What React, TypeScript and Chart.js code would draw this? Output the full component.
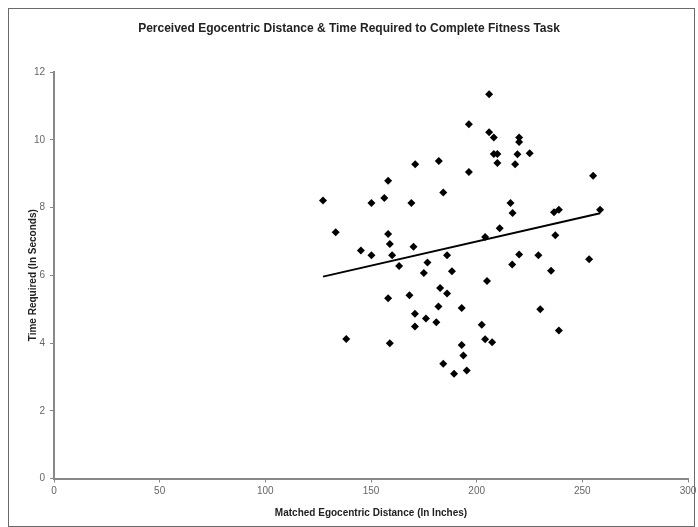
import React, { useEffect, useRef } from "react";
import { Chart, registerables } from "chart.js";

Chart.register(...registerables);

const chartTitle = "Perceived Egocentric Distance & Time Required to Complete Fitness Task";
const xAxisTitle = "Matched Egocentric Distance (In Inches)";
const yAxisTitle = "Time Required (In Seconds)";

const distanceInches = [
  205.9, 196.3, 205.9, 208.1, 208.1, 209.8, 209.8, 170.9, 182.1, 196.3,
  158.1, 184.2, 127.3, 150.2, 156.3, 169.1, 220.1, 220.1, 219.3, 225.1,
  218.2, 255.1, 216.0, 217.0, 236.6, 238.9, 258.4, 210.9, 204.0, 237.2,
  220.1, 229.2, 216.8, 253.2, 235.2, 204.9, 230.1, 202.4, 238.9, 204.0,
  207.3, 133.3, 158.1, 158.9, 145.2, 150.2, 160.0, 170.1, 163.3, 176.7,
  186.0, 175.0, 188.3, 182.7, 186.0, 158.1, 168.2, 181.9, 192.9, 170.8,
  176.0, 180.9, 170.8, 138.3, 158.9, 192.9, 193.7, 184.2, 189.3, 195.3,
];

const timeSeconds = [
  11.34, 10.46, 10.22, 10.07, 9.58, 9.58, 9.31, 9.28, 9.37, 9.05,
  8.79, 8.44, 8.21, 8.13, 8.28, 8.13, 10.07, 9.93, 9.57, 9.6,
  9.28, 8.94, 8.13, 7.84, 7.86, 7.93, 7.93, 7.39, 7.13, 7.18,
  6.61, 6.59, 6.32, 6.47, 6.13, 5.83, 5.0, 4.54, 4.37, 4.11,
  4.02, 7.27, 7.22, 6.92, 6.73, 6.59, 6.59, 6.84, 6.27, 6.38,
  6.59, 6.07, 6.12, 5.62, 5.46, 5.32, 5.41, 5.08, 5.03, 4.86,
  4.72, 4.61, 4.49, 4.12, 3.99, 3.94, 3.63, 3.39, 3.09, 3.19,
];

const trendX = [127.3, 258.4];
const trendY = [5.96, 7.83];

const xTicks = [0, 50, 100, 150, 200, 250, 300];
const yTicks = [0, 2, 4, 6, 8, 10, 12];

export default function App() {
  const canvasRef = useRef<HTMLCanvasElement | null>(null);

  useEffect(() => {
    const canvas = canvasRef.current;
    if (!canvas) return;
    const font = "'Liberation Sans', Arial, sans-serif";
    const chart = new Chart(canvas, {
      type: "scatter",
      data: {
        datasets: [
          {
            type: "scatter",
            data: distanceInches.map((x, i) => ({ x, y: timeSeconds[i] })),
            pointStyle: "rectRot",
            pointRadius: 4,
            pointHoverRadius: 4,
            backgroundColor: "#000",
            borderColor: "#000",
            borderWidth: 0,
          },
          {
            type: "line",
            data: trendX.map((x, i) => ({ x, y: trendY[i] })),
            borderColor: "#000",
            borderWidth: 2,
            pointRadius: 0,
            showLine: true,
            fill: false,
          } as any,
        ],
      },
      options: {
        responsive: false,
        animation: false,
        layout: { padding: { left: 0, right: 0, top: 0, bottom: 0 } },
        plugins: {
          legend: { display: false },
          tooltip: { enabled: false },
          title: {
            display: true,
            text: chartTitle,
            color: "#222",
            font: { family: font, size: 12, weight: "bold" },
            padding: { top: 21, bottom: 36.6 },
          },
        },
        scales: {
          x: {
            type: "linear",
            min: 0,
            max: 300,
            afterBuildTicks: (s: any) => {
              s.ticks = xTicks.map((v) => ({ value: v }));
            },
            afterFit: (s: any) => {
              s.height = 48.5;
              s.paddingRight = 10;
            },
            grid: {
              drawOnChartArea: false,
              drawTicks: true,
              tickLength: 4,
              color: "#888",
            },
            border: { display: true, color: "#888", width: 2 },
            ticks: {
              color: "#666",
              font: { family: font, size: 10 },
              padding: 3,
              maxRotation: 0,
            },
            title: {
              display: true,
              text: xAxisTitle,
              color: "#222",
              font: { family: font, size: 10, weight: "bold" },
              padding: { top: 4, bottom: 8 },
            },
          },
          y: {
            type: "linear",
            min: 0,
            max: 12,
            afterBuildTicks: (s: any) => {
              s.ticks = yTicks.map((v) => ({ value: v }));
            },
            afterFit: (s: any) => {
              s.width = 54;
            },
            grid: {
              drawOnChartArea: false,
              drawTicks: true,
              tickLength: 4,
              color: "#888",
            },
            border: { display: true, color: "#888", width: 2 },
            ticks: {
              color: "#666",
              font: { family: font, size: 10 },
              padding: 5,
            },
            title: {
              display: true,
              text: yAxisTitle,
              color: "#222",
              font: { family: font, size: 10, weight: "bold" },
              padding: { top: 27, bottom: 4 },
            },
          },
        },
      },
    });
    return () => chart.destroy();
  }, []);

  return (
    <div style={{ position: "fixed", left: 0, top: 0, width: 698, height: 527, background: "#fff" }}>
      <canvas ref={canvasRef} width={698} height={527} style={{ position: "absolute", left: 0, top: 0, width: 698, height: 527 }} />
      <div
        style={{
          position: "absolute",
          left: 8,
          top: 8,
          width: 687,
          height: 519,
          boxSizing: "border-box",
          border: "1px solid #6a6a6a",
          pointerEvents: "none",
        }}
      />
    </div>
  );
}
